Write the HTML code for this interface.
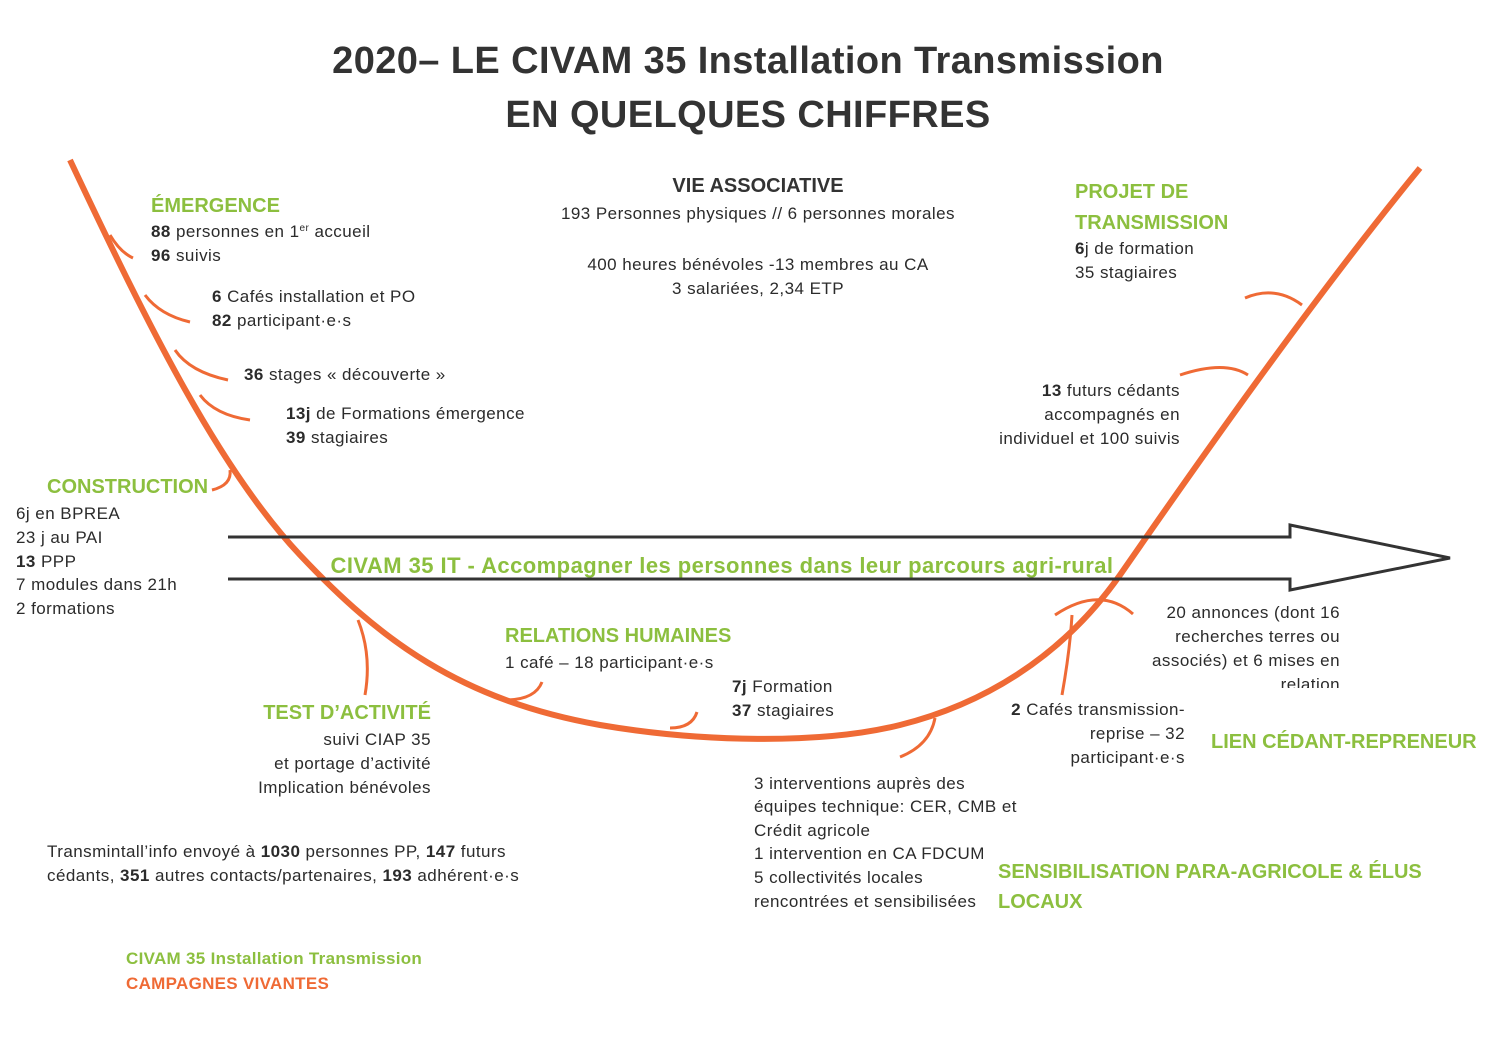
<!DOCTYPE html>
<html><head><meta charset="utf-8"><style>
html,body{margin:0;padding:0;background:#fff;}
svg{display:block;font-family:"Liberation Sans",sans-serif;}
.t{font-size:17px;fill:#2b2b2b;letter-spacing:0.45px;}
.g{font-size:20px;font-weight:bold;fill:#8cbf3f;letter-spacing:0px;}
.b{font-weight:bold;}
</style></head><body>
<svg width="1497" height="1058" viewBox="0 0 1497 1058" xmlns="http://www.w3.org/2000/svg">
<text x="748" y="73" text-anchor="middle" font-size="38" font-weight="bold" fill="#333" letter-spacing="0.4">2020– LE CIVAM 35 Installation Transmission</text>
<text x="748" y="127" text-anchor="middle" font-size="38" font-weight="bold" fill="#333" letter-spacing="0.4">EN QUELQUES CHIFFRES</text>

<path d="M70,160 C150,330 220,470 300,555 C380,640 460,700 600,725 C700,742 820,745 900,725 C980,705 1060,660 1120,575 C1210,445 1320,290 1420,168" fill="none" stroke="#ef6a35" stroke-width="6"/>
<g fill="none" stroke="#ef6a35" stroke-width="3">
<path d="M110,235 Q120,252 133,258"/>
<path d="M145,295 Q160,315 190,322"/>
<path d="M175,350 Q190,372 228,380"/>
<path d="M200,395 Q215,415 250,420"/>
<path d="M230,470 Q232,485 212,490"/>
<path d="M358,620 Q372,655 365,695"/>
<path d="M505,700 Q535,700 542,682"/>
<path d="M670,728 Q692,728 697,712"/>
<path d="M900,757 Q930,745 935,718"/>
<path d="M1062,695 Q1070,650 1072,615"/>
<path d="M1055,615 Q1100,585 1133,614"/>
<path d="M1180,375 Q1225,360 1248,375"/>
<path d="M1245,298 Q1275,285 1302,305"/>
</g>

<g fill="none" stroke="#333" stroke-width="3">
<path d="M228,537 L1290,537 L1290,525 L1450,558 L1290,590 L1290,579 L228,579"/>
</g>
<text x="722" y="573" text-anchor="middle" font-size="22" font-weight="bold" fill="#8cbf3f" letter-spacing="0.45">CIVAM 35 IT - Accompagner les personnes dans leur parcours agri-rural</text>

<text x="151" y="212" class="g">ÉMERGENCE</text>
<text x="151" y="237" class="t"><tspan class="b">88</tspan> personnes en 1<tspan font-size="10" dy="-6">er</tspan><tspan dy="6"> accueil</tspan></text>
<text x="151" y="261" class="t"><tspan class="b">96</tspan> suivis</text>
<text x="212" y="302" class="t"><tspan class="b">6</tspan> Cafés installation et PO</text>
<text x="212" y="326" class="t"><tspan class="b">82</tspan> participant·e·s</text>
<text x="244" y="380" class="t"><tspan class="b">36</tspan> stages « découverte »</text>
<text x="286" y="419" class="t"><tspan class="b">13j</tspan> de Formations émergence</text>
<text x="286" y="443" class="t"><tspan class="b">39</tspan> stagiaires</text>

<text x="758" y="192" text-anchor="middle" font-size="20" font-weight="bold" fill="#333">VIE ASSOCIATIVE</text>
<text x="758" y="219" text-anchor="middle" class="t">193 Personnes physiques // 6 personnes morales</text>
<text x="758" y="270" text-anchor="middle" class="t">400 heures bénévoles  -13 membres au CA</text>
<text x="758" y="294" text-anchor="middle" class="t">3 salariées, 2,34 ETP</text>

<text x="1075" y="198" class="g">PROJET DE</text>
<text x="1075" y="229" class="g">TRANSMISSION</text>
<text x="1075" y="254" class="t"><tspan class="b">6</tspan>j de formation</text>
<text x="1075" y="278" class="t">35 stagiaires</text>
<text x="1180" y="396" text-anchor="end" class="t"><tspan class="b">13</tspan> futurs cédants</text>
<text x="1180" y="420" text-anchor="end" class="t">accompagnés en</text>
<text x="1180" y="444" text-anchor="end" class="t">individuel et 100 suivis</text>

<text x="47" y="493" class="g">CONSTRUCTION</text>
<text x="16" y="519" class="t">6j en BPREA</text>
<text x="16" y="543" class="t">23 j au PAI</text>
<text x="16" y="567" class="t"><tspan class="b">13</tspan> PPP</text>
<text x="16" y="590" class="t">7 modules dans 21h</text>
<text x="16" y="614" class="t">2 formations</text>

<text x="505" y="642" class="g">RELATIONS HUMAINES</text>
<text x="505" y="668" class="t">1 café – 18 participant·e·s</text>
<text x="732" y="692" class="t"><tspan class="b">7j</tspan>  Formation</text>
<text x="732" y="716" class="t"><tspan class="b">37</tspan> stagiaires</text>

<text x="431" y="719" text-anchor="end" class="g">TEST D’ACTIVITÉ</text>
<text x="431" y="745" text-anchor="end" class="t">suivi CIAP 35</text>
<text x="431" y="769" text-anchor="end" class="t">et portage d’activité</text>
<text x="431" y="793" text-anchor="end" class="t">Implication bénévoles</text>

<text x="1340" y="618" text-anchor="end" class="t">20 annonces (dont 16</text>
<text x="1340" y="642" text-anchor="end" class="t">recherches terres ou</text>
<text x="1340" y="666" text-anchor="end" class="t">associés) et 6 mises en</text>
<text x="1340" y="690" text-anchor="end" class="t">relation</text>
<rect x="1150" y="688" width="200" height="12" fill="#fff"/>
<text x="1185" y="715" text-anchor="end" class="t"><tspan class="b">2</tspan> Cafés transmission-</text>
<text x="1185" y="739" text-anchor="end" class="t">reprise – 32</text>
<text x="1185" y="763" text-anchor="end" class="t">participant·e·s</text>
<text x="1211" y="748" class="g">LIEN CÉDANT-REPRENEUR</text>

<text x="754" y="789" class="t">3 interventions auprès des</text>
<text x="754" y="812" class="t">équipes technique: CER, CMB et</text>
<text x="754" y="836" class="t">Crédit agricole</text>
<text x="754" y="859" class="t">1 intervention en CA FDCUMA</text>
<text x="754" y="883" class="t">5 collectivités locales</text>
<text x="754" y="907" class="t">rencontrées et sensibilisées</text>
<rect x="983" y="843" width="14" height="22" fill="#fff"/>
<text x="998" y="878" class="g">SENSIBILISATION PARA-AGRICOLE &amp; ÉLUS</text>
<text x="998" y="908" class="g">LOCAUX</text>

<text x="47" y="857" class="t">Transmintall’info envoyé à <tspan class="b">1030</tspan> personnes PP, <tspan class="b">147</tspan> futurs</text>
<text x="47" y="881" class="t">cédants, <tspan class="b">351</tspan> autres contacts/partenaires, <tspan class="b">193</tspan> adhérent·e·s</text>

<text x="126" y="964" font-size="17" font-weight="bold" fill="#8cbf3f" letter-spacing="0.3">CIVAM 35 Installation Transmission</text>
<text x="126" y="989" font-size="17" font-weight="bold" fill="#ef6a35" letter-spacing="0.3">CAMPAGNES VIVANTES</text>
</svg>
</body></html>
